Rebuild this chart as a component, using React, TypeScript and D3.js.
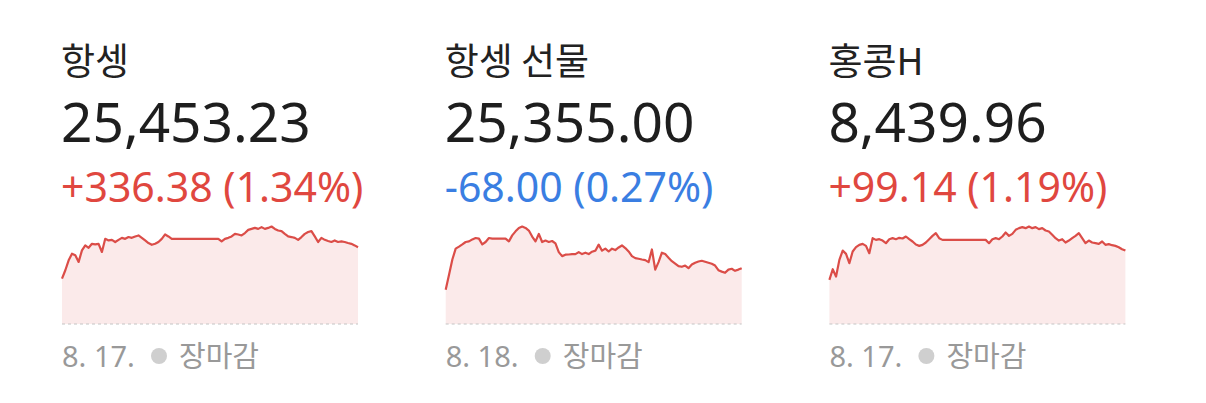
import React from "react";
import * as d3 from "d3";

// 항셍 / 항셍 선물 / 홍콩H intraday quotes
const names = ["항셍", "항셍 선물", "홍콩H"];
const prices = ["25,453.23", "25,355.00", "8,439.96"];
const changes = ["+336.38 (1.34%)", "-68.00 (0.27%)", "+99.14 (1.19%)"];
const directions = ["up", "down", "up"];
const dates = ["8. 17.", "8. 18.", "8. 17."];
const statusLabel = "장마감";
const floors = [25067, 25078, 8319];

const hangSeng = [
  25295, 25337, 25387, 25420, 25412, 25379, 25437, 25462, 25450, 25470,
  25467, 25470, 25429, 25495, 25487, 25490, 25479, 25490, 25500, 25495,
  25504, 25500, 25507, 25512, 25500, 25487, 25474, 25465, 25470, 25479,
  25495, 25517, 25507, 25495, 25495, 25495, 25495, 25495, 25495, 25495,
  25495, 25495, 25495, 25495, 25495, 25495, 25495, 25495, 25482, 25495,
  25500, 25507, 25520, 25517, 25512, 25524, 25540, 25545, 25550, 25545,
  25554, 25545, 25550, 25557, 25545, 25537, 25534, 25520, 25507, 25504,
  25500, 25490, 25504, 25520, 25529, 25534, 25507, 25479, 25500, 25490,
  25484, 25479, 25487, 25479, 25482, 25479, 25474, 25470, 25462, 25453,
];

const hangSengFutures = [
  25248, 25323, 25398, 25452, 25462, 25473, 25485, 25488, 25498, 25505,
  25502, 25473, 25485, 25505, 25502, 25502, 25502, 25502, 25502, 25488,
  25518, 25538, 25555, 25562, 25555, 25542, 25512, 25488, 25525, 25485,
  25492, 25485, 25490, 25478, 25435, 25415, 25422, 25423, 25425, 25425,
  25435, 25425, 25432, 25425, 25437, 25442, 25472, 25442, 25452, 25438,
  25452, 25445, 25458, 25468, 25455, 25438, 25415, 25405, 25402, 25398,
  25395, 25385, 25448, 25348, 25385, 25432, 25425, 25407, 25390, 25378,
  25365, 25362, 25368, 25355, 25373, 25382, 25388, 25392, 25387, 25382,
  25377, 25368, 25345, 25338, 25332, 25348, 25352, 25342, 25348, 25355,
];

const hscei = [
  8391.6, 8409.2, 8397.1, 8424.6, 8440.0, 8434.5, 8419.1, 8438.4, 8445.5, 8449.4,
  8451.0, 8447.7, 8435.6, 8460.4, 8457.6, 8458.7, 8456.5, 8452.1, 8458.7, 8460.4,
  8458.7, 8460.9, 8459.8, 8463.1, 8458.7, 8454.9, 8449.9, 8447.7, 8449.4, 8453.2,
  8458.7, 8464.2, 8468.6, 8460.4, 8457.6, 8457.6, 8457.6, 8457.6, 8457.6, 8457.6,
  8457.6, 8457.6, 8457.6, 8457.6, 8457.6, 8457.6, 8457.6, 8457.6, 8452.1, 8458.7,
  8460.4, 8458.7, 8463.1, 8469.7, 8464.2, 8467.5, 8474.1, 8476.9, 8478.5, 8476.9,
  8479.6, 8476.9, 8478.5, 8475.2, 8476.9, 8473.0, 8471.4, 8465.9, 8460.4, 8456.5,
  8458.7, 8453.2, 8456.5, 8460.4, 8464.2, 8468.6, 8460.4, 8452.1, 8456.5, 8453.2,
  8452.1, 8451.0, 8454.9, 8449.4, 8450.5, 8448.8, 8447.7, 8445.5, 8442.2, 8440.0,
];

const series = [hangSeng, hangSengFutures, hscei];

const W = 1206;
const H = 403;
const panelLeft = 62;
const panelStep = 383.7;
const chartW = 296;
const chartTop = 226.5;
const chartBottom = 324;

const font = "'Noto Sans', 'Noto Sans CJK KR', sans-serif";
const cjkFont = "'Noto Sans CJK KR', 'Noto Sans', sans-serif";
const upColor = "#e0473f";
const downColor = "#3a7ee2";
const lineColor = "#db4d48";
const areaColor = "#fbeaea";

const Spark = ({ data, floor }: { data: number[]; floor: number }) => {
  const x = d3
    .scaleLinear()
    .domain([0, data.length - 1])
    .range([0, chartW]);
  const y = d3
    .scaleLinear()
    .domain([floor, d3.max(data) as number])
    .range([chartBottom, chartTop]);

  const line = d3
    .line<number>()
    .x((_, i) => x(i))
    .y((d) => y(d));
  const area = d3
    .area<number>()
    .x((_, i) => x(i))
    .y0(chartBottom)
    .y1((d) => y(d));

  return (
    <g>
      <path d={area(data) ?? ""} fill={areaColor} />
      <line
        x1={0}
        x2={chartW}
        y1={chartBottom}
        y2={chartBottom}
        stroke="#c4c4c4"
        strokeWidth={1}
        strokeDasharray="3,3"
      />
      <path
        d={line(data) ?? ""}
        fill="none"
        stroke={lineColor}
        strokeWidth={2.2}
        strokeLinejoin="round"
      />
    </g>
  );
};

export default function App() {
  return (
    <svg
      width={W}
      height={H}
      style={{ position: "absolute", left: 0, top: 0, background: "#fff" }}
      fontFamily={font}
    >
      {names.map((name, i) => (
        <g key={name} transform={`translate(${panelLeft + i * panelStep},0)`}>
          <text x={-1} y={75} fontSize={37} fill="#222" fontFamily={cjkFont}>
            {name}
          </text>
          <text x={-1} y={142} fontSize={55} fill="#1e1e1e">
            {prices[i]}
          </text>
          <text
            x={-1}
            y={202}
            fontSize={41}
            fill={directions[i] === "up" ? upColor : downColor}
          >
            {changes[i]}
          </text>
          <Spark data={series[i]} floor={floors[i]} />
          <text x={0} y={367} fontSize={29} fill="#999">
            {dates[i]}
          </text>
          <circle cx={97} cy={356} r={8} fill="#cfcfcf" />
          <text x={117} y={367} fontSize={29} fill="#999" fontFamily={cjkFont}>
            {statusLabel}
          </text>
        </g>
      ))}
    </svg>
  );
}
